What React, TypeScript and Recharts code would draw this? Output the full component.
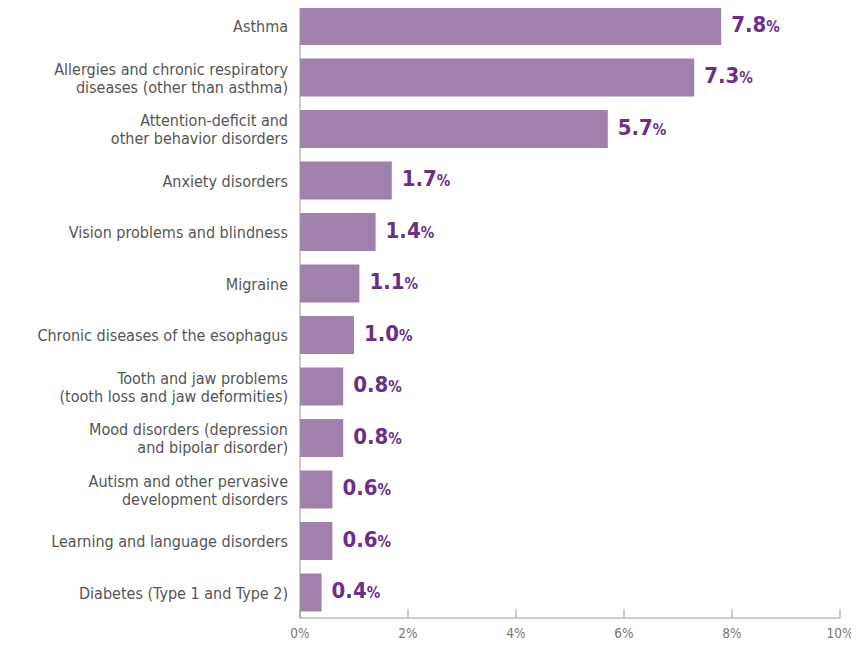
import { Bar, BarChart, LabelList, XAxis, YAxis } from "recharts";

const categories = [
  "Asthma",
  "Allergies and chronic respiratory|diseases (other than asthma)",
  "Attention-deficit and|other behavior disorders",
  "Anxiety disorders",
  "Vision problems and blindness",
  "Migraine",
  "Chronic diseases of the esophagus",
  "Tooth and jaw problems|(tooth loss and jaw deformities)",
  "Mood disorders (depression|and bipolar disorder)",
  "Autism and other pervasive|development disorders",
  "Learning and language disorders",
  "Diabetes (Type 1 and Type 2)",
];

const values = [7.8, 7.3, 5.7, 1.7, 1.4, 1.1, 1.0, 0.8, 0.8, 0.6, 0.6, 0.4];

const xTicks = [0, 2, 4, 6, 8, 10];

const data = categories.map((name, i) => ({ name, value: values[i] }));

const FONT = "'DejaVu Sans Condensed', 'Liberation Sans Narrow', sans-serif";
const BAR = "#a081ad";
const LABEL = "#6b2f87";

function CategoryTick(props: any) {
  const { x, y, payload } = props;
  const lines = String(payload.value).split("|");
  const lh = 18;
  const start = -((lines.length - 1) * lh) / 2;
  return (
    <text x={x} y={y} textAnchor="end" fill="#555" fontSize={16} fontFamily={FONT}>
      {lines.map((l, i) => (
        <tspan key={i} x={x} y={y + start + i * lh + 1} dy="0.35em">
          {l}
        </tspan>
      ))}
    </text>
  );
}

function ValueLabel(props: any) {
  const { x, y, width, height, value } = props;
  return (
    <text x={x + width + 10} y={y + height / 2} dy="0.36em" fill={LABEL} fontFamily={FONT} fontWeight="bold">
      <tspan fontSize={22}>{Number(value).toFixed(1)}</tspan>
      <tspan fontSize={15}>%</tspan>
    </text>
  );
}

export default function App() {
  return (
    <div style={{ margin: -8, background: "#fff", width: 859, height: 647 }}>
      <BarChart
        width={859}
        height={647}
        data={data}
        layout="vertical"
        margin={{ top: 0, right: 19, bottom: 0, left: 0 }}
        barCategoryGap={7}
      >
        <XAxis
          type="number"
          domain={[0, 10]}
          ticks={xTicks}
          tickFormatter={(v) => `${v}%`}
          height={29}
          tickSize={-9}
          tickMargin={19}
          stroke="#999"
          tick={{ fill: "#777", fontSize: 13.5, fontFamily: FONT }}
        />
        <YAxis
          type="category"
          dataKey="name"
          width={300}
          tickLine={false}
          tickMargin={6}
          stroke="#999"
          interval={0}
          tick={<CategoryTick />}
        />
        <Bar dataKey="value" fill={BAR} isAnimationActive={false}>
          <LabelList dataKey="value" content={<ValueLabel />} />
        </Bar>
      </BarChart>
    </div>
  );
}
